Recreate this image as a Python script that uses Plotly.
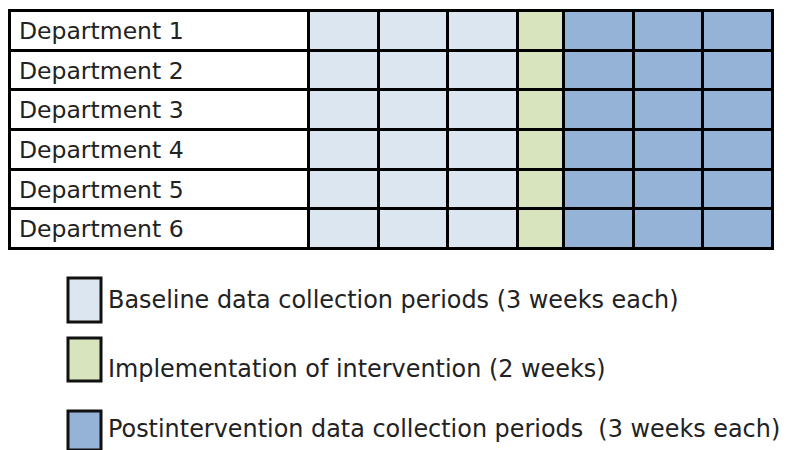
import plotly.graph_objects as go

# ---- data ----
departments = ["Department 1", "Department 2", "Department 3",
               "Department 4", "Department 5", "Department 6"]
phase_names = ["Baseline 1", "Baseline 2", "Baseline 3", "Implementation",
               "Postintervention 1", "Postintervention 2", "Postintervention 3"]
phase_weeks = [3, 3, 3, 2, 3, 3, 3]
phase_types = ["baseline", "baseline", "baseline", "implementation",
               "post", "post", "post"]
legend_types = ["baseline", "implementation", "post"]
legend_labels = ["Baseline data collection periods (3 weeks each)",
                 "Implementation of intervention (2 weeks)",
                 "Postintervention data collection periods \u00a0(3 weeks each)"]

# ---- style ----
colors = {"baseline": "#DCE6F1", "implementation": "#D7E4BD", "post": "#95B3D7"}
LABEL_W = 12.888          # width of label column, in week units
OFF = 8                   # page body margin
W, H = 787 - OFF, 450 - OFF
FONT = "DejaVu Sans"
TXT = "#222222"
LINE = dict(color="#000000", width=3)
PX_WK = 23.2              # pixels per week
PX_ROW = 39.67            # pixels per row


def px(x):
    return min(max((x - OFF) / W, 0), 1)


def py(y):
    return min(max(1 - (y - OFF) / H, 0), 1)


fig = go.Figure()

# label column
fig.add_trace(go.Bar(
    y=departments, x=[LABEL_W] * len(departments), base=[-LABEL_W] * len(departments),
    orientation="h", marker=dict(color="white", line=LINE),
    showlegend=False, hoverinfo="skip"))

start = 0
for name, w, t in zip(phase_names, phase_weeks, phase_types):
    fig.add_trace(go.Bar(
        y=departments, x=[w] * len(departments), base=[start] * len(departments),
        orientation="h", name=name,
        marker=dict(color=colors[t], line=LINE),
        showlegend=False))
    start += w

total = start

annotations = []
for d in departments:
    annotations.append(dict(
        x=-LABEL_W, y=d, xref="x", yref="y", text=d, showarrow=False,
        xanchor="left", yanchor="middle", xshift=7, yshift=0,
        font=dict(family=FONT, size=23.5, color=TXT)))

shapes = []
box_y = [(278, 322), (338, 381), (411, 455)]
text_y = [299.5, 368.5, 428.5]
for (y0, y1), ty, t, lab in zip(box_y, text_y, legend_types, legend_labels):
    shapes.append(dict(
        type="rect", xref="paper", yref="paper",
        x0=px(68), x1=px(101), y0=py(y1), y1=py(y0),
        fillcolor=colors[t], line=dict(color="#111111", width=3)))
    annotations.append(dict(
        x=px(106), y=py(ty), xref="paper", yref="paper", text=lab,
        showarrow=False, xanchor="left", yanchor="middle",
        font=dict(family=FONT, size=23.9, color=TXT)))

fig.update_layout(
    width=W, height=H,
    margin=dict(l=0, r=0, t=0, b=0),
    paper_bgcolor="white", plot_bgcolor="white",
    barmode="overlay", bargap=0,
    xaxis=dict(domain=[px(8), px(778)],
               range=[-LABEL_W - 2 / PX_WK, total + 5 / PX_WK],
               visible=False, fixedrange=True),
    yaxis=dict(domain=[py(255), py(8)],
               range=[len(departments) - 0.5 + 6 / PX_ROW, -0.5 - 3 / PX_ROW],
               visible=False, fixedrange=True),
    annotations=annotations, shapes=shapes,
    showlegend=False,
)

fig.write_html("out.html")
